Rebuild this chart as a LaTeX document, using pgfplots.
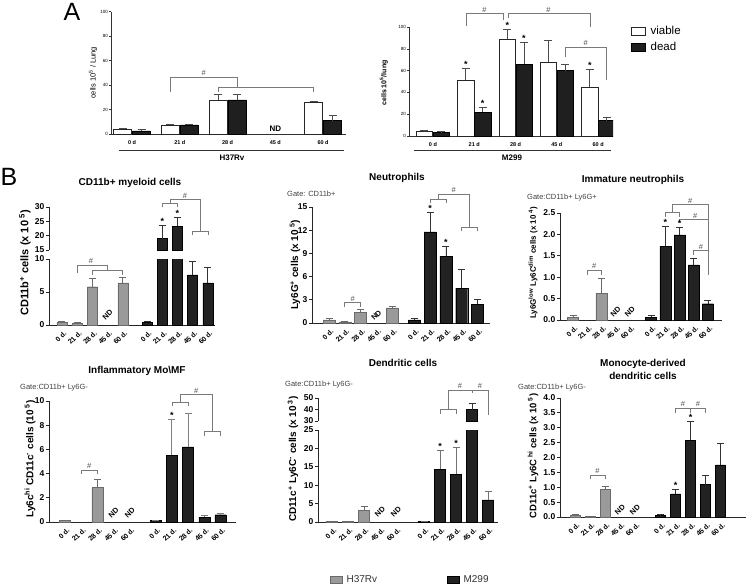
\documentclass[border=0pt]{standalone}
\usepackage{pgfplots}
\pgfplotsset{compat=1.18}
\usepackage{fontspec}
\setmainfont{Liberation Sans}
\definecolor{h37fill}{HTML}{9A9A9A}
\definecolor{h37draw}{HTML}{6A6A6A}
\definecolor{mfill}{HTML}{222222}
\definecolor{brkc}{HTML}{7A7A7A}
\newcommand{\fs}[1]{\fontsize{#1}{#1}\selectfont}
\tikzset{
 brk/.style={draw=brkc, line width=0.7pt},
 hs/.style={font=\fs{7.5}, text=black!70, anchor=south, inner sep=1pt},
 star/.style={font=\bfseries\fs{9}, anchor=south, inner sep=0.5pt},
 ND/.style={font=\bfseries\fs{7.5}, rotate=45, inner sep=0pt},
 ylab/.style={font=\bfseries\fs{#1}, rotate=90},
 ylab/.default=10,
 ttl/.style={font=\bfseries\fs{10}},
 gate/.style={font=\fs{7.5}, text=black!75, anchor=west, inner sep=0pt},
}
\pgfplotsset{
 Bax/.style={scale only axis, axis x line*=bottom, axis y line*=left,
   axis line style={line width=0.9pt, black!85},
   tick align=outside, major tick length=3pt,
   ytick style={line width=0.9pt, black!85},
   xtick style={draw=none},
   yticklabel style={font=\bfseries\fs{8.5}, inner sep=1.5pt},
   xticklabel style={rotate=45, anchor=north east, inner sep=0.3pt, yshift=-2pt, font=\bfseries\fs{7}},
   clip mode=individual, enlargelimits=false},
 Btop/.style={Bax, axis x line=none, xtick=\empty},
 dlab/.style={xticklabels={0 d.,21 d.,28 d.,45 d.,60 d.,0 d.,21 d.,28 d.,45 d.,60 d.}},
 h37/.style={ybar, fill=h37fill, draw=h37draw, line width=0.4pt,
    error bars/.cd, y dir=plus, y explicit,
    error bar style={h37draw, line width=0.8pt},
    error mark options={h37draw, line width=0.8pt, mark size=3.5pt, rotate=90}},
 m299/.style={ybar, fill=mfill, draw=black, line width=0.4pt,
    error bars/.cd, y dir=plus, y explicit,
    error bar style={#1, line width=0.8pt},
    error mark options={#1, line width=0.8pt, mark size=3.5pt, rotate=90}},
 m299/.default={black!80},
 Aax/.style={scale only axis, axis x line*=bottom, axis y line*=left,
   axis line style={line width=0.6pt, black!80},
   tick align=outside, major tick length=2pt,
   ytick style={line width=0.5pt, black!80}, xtick style={draw=none},
   yticklabel style={font=\fs{4.5}, inner sep=1pt},
   xticklabel style={font=\bfseries\fs{5.5}, inner sep=1pt, yshift=-3.5pt},
   clip mode=individual, enlargelimits=false,
   ymin=0, ymax=100, ytick={0,20,40,60,80,100}, yticklabels={0,20,40,60,80,100},
   xtick={0,1,2,3,4}, xticklabels={0 d,21 d,28 d,45 d,60 d}},
 Aviab/.style={fill=white, draw=black!85, line width=0.5pt,
    error bars/.cd, y dir=plus, y explicit,
    error bar style={black!70, line width=0.6pt},
    error mark options={black!70, line width=0.6pt, mark size=4pt, rotate=90}},
 Adead/.style={fill=black!88, draw=black, line width=0.5pt,
    error bars/.cd, y dir=plus, y explicit,
    error bar style={black!70, line width=0.6pt},
    error mark options={black!70, line width=0.6pt, mark size=4pt, rotate=90}},
}
\begin{document}
\begin{tikzpicture}
\useasboundingbox (0pt,0pt) rectangle (748pt,-584pt);

% ---------- Panel A left: H37Rv ----------
\begin{axis}[Aax, at={(111pt,-134pt)}, anchor=south west, width=235pt, height=122.3pt,
  xmin=-0.44, xmax=4.48, ybar=1pt, bar width=18pt]
\addplot[Aviab] coordinates {(0,4) +- (0,0.8) (1,7.5) +- (0,0.5) (2,28) +- (0,4.5) (4,26) +- (0,1)};
\addplot[Adead] coordinates {(0,2.5) +- (0,1.5) (1,7.5) +- (0,0.5) (2,28) +- (0,4.5) (4,11) +- (0,4.5)};
\node[font=\bfseries\fs{8}, anchor=south, inner sep=0pt] at (3,1.5) {ND};
\draw[brk] (0.8,34.3) |- (2.2,46.6) -- (2.2,38.4);
\draw[brk] (1.8,34.3) |- (3.8,38.4) -- (3.8,34.3);
\node[hs] at (1.5,46.6) {\#};
\end{axis}

% ---------- Panel A right: M299 ----------
\begin{axis}[Aax, at={(409pt,-136pt)}, anchor=south west, width=204pt, height=109pt,
  xmin=-0.58, xmax=4.36, ybar=0.5pt, bar width=16.5pt,
  legend style={at={(1.088,1.03)}, anchor=north west, draw=none, fill=none,
     font=\fs{11.5}, inner sep=0pt, row sep=2.5pt,
     nodes={inner xsep=5pt}},
  legend cell align=left,
  legend image code/.code={\draw[#1] (0pt,-4pt) rectangle (14pt,4pt);}]
\addplot[Aviab] coordinates {(0,4) +- (0,1) (1,51) +- (0,11) (2,89) +- (0,9) (3,68) +- (0,20) (4,45) +- (0,16)};
\addplot[Adead] coordinates {(0,3) +- (0,1) (1,22) +- (0,4.5) (2,66) +- (0,20) (3,60) +- (0,6) (4,14) +- (0,3.5)};
\legend{viable,dead}
\node[star] at (0.8,62) {*};
\node[star] at (1.2,26.5) {*};
\node[star] at (1.8,98) {*};
\node[star] at (2.2,86) {*};
\node[star] at (3.8,61) {*};
\draw[brk] (0.8,100.9) |- (1.7,112.6) -- (1.7,106.4);
\draw[brk] (1.82,108) |- (3.8,112.6) -- (3.8,100.3);
\node[hs] at (1.25,112.6) {\#};
\node[hs] at (2.8,112.6) {\#};
\draw[brk] (3.2,72.5) |- (4.2,81.7) -- (4.2,51.4);
\node[hs] at (3.7,81.7) {\#};
\end{axis}

% ---------- B1 CD11b+ myeloid (broken) ----------
\begin{axis}[Bax, at={(49pt,-325pt)}, anchor=south west, width=166pt, height=66pt,
  xmin=-0.855, xmax=10.07, ymin=0, ymax=10, ytick={0,5,10}, yticklabels={0,5,10},
  xtick={0,1,2,3,4,5.6,6.6,7.6,8.6,9.6}, dlab, bar width=10pt]
\addplot[h37] coordinates {(0,0.4) +- (0,0.2) (1,0.2) +- (0,0.2) (2,5.8) +- (0,1.3) (4,6.4) +- (0,0.8)};
\addplot[m299] coordinates {(5.6,0.4) +- (0,0.2) (6.6,19) +- (0,4.5) (7.6,23.2) +- (0,3.3) (8.6,7.6) +- (0,2.1) (9.6,6.4) +- (0,2.4)};
\node[ND] at (3,1.5) {ND};
\draw[brk] (1,7.9) |- (3,9.1) -- (3,8.3);
\draw[brk] (2,7.6) |- (4,8.3) -- (4,7.6);
\node[hs] at (1.9,9.1) {\#};
\end{axis}
\begin{axis}[Btop, at={(49pt,-250pt)}, anchor=south west, width=166pt, height=43pt,
  xmin=-0.855, xmax=10.07, ymin=15, ymax=30, ytick={15,20,25,30}, yticklabels={15,20,25,30}, bar width=10pt]
\addplot[m299] coordinates {(6.6,19) +- (0,4.5) (7.6,23.2) +- (0,3.3)};
\node[star] at (6.6,23.5) {*};
\node[star] at (7.6,26.5) {*};
\draw[brk] (6.6,30) |- (7.6,31.4) -- (7.6,30);
\draw[brk] (7.1,31.4) -- (7.1,32.7) -- (9.1,32.7) -- (9.1,21.6);
\draw[brk] (8.6,20.2) |- (9.6,21.6) -- (9.6,20.2);
\node[hs] at (8.1,32.7) {\#};
\end{axis}

% ---------- B2 Neutrophils ----------
\begin{axis}[Bax, at={(312pt,-323pt)}, anchor=south west, width=178pt, height=116pt,
  xmin=-1.076, xmax=10.19, ymin=0, ymax=15, ytick={0,3,6,9,12,15}, yticklabels={0,3,6,9,12,15},
  xtick={0,1,2,3,4,5.4,6.4,7.4,8.4,9.4}, dlab, bar width=12pt]
\addplot[h37] coordinates {(0,0.4) +- (0,0.15) (1,0.15) +- (0,0.05) (2,1.4) +- (0,0.3) (4,1.95) +- (0,0.2)};
\addplot[m299] coordinates {(5.4,0.4) +- (0,0.15) (6.4,11.8) +- (0,2.5) (7.4,8.6) +- (0,1.3) (8.4,4.5) +- (0,2.4) (9.4,2.4) +- (0,0.7)};
\node[ND] at (3,1.0) {ND};
\draw[brk] (1,2.1) |- (2,2.63) -- (2,2.1);
\node[hs] at (1.5,2.63) {\#};
\draw[brk] (6.4,15.5) |- (7.4,16.0) -- (7.4,15.5);
\draw[brk] (6.9,16.0) -- (6.9,16.7) -- (8.9,16.7) -- (8.9,12.4);
\draw[brk] (8.4,11.9) |- (9.4,12.4) -- (9.4,11.9);
\node[hs] at (7.9,16.7) {\#};
\node[star] at (6.4,14.3) {*};
\node[star] at (7.4,9.9) {*};
\end{axis}

% ---------- B3 Immature neutrophils ----------
\begin{axis}[Bax, at={(560pt,-320pt)}, anchor=south west, width=162pt, height=107pt,
  xmin=-0.915, xmax=10.49, ymin=0, ymax=2.5, ytick={0,0.5,1,1.5,2,2.5},
  yticklabels={0.0,0.5,1.0,1.5,2.0,2.5},
  xtick={0,1,2,3,4,5.5,6.5,7.5,8.5,9.5}, dlab, bar width=11pt]
\addplot[h37] coordinates {(0,0.07) +- (0,0.04) (2,0.63) +- (0,0.35)};
\addplot[m299] coordinates {(5.5,0.07) +- (0,0.04) (6.5,1.72) +- (0,0.47) (7.5,1.99) +- (0,0.17) (8.5,1.29) +- (0,0.16) (9.5,0.38) +- (0,0.07)};
\node[ND] at (3,0.19) {ND};
\node[ND] at (4,0.19) {ND};
\draw[brk] (1,1.05) |- (2,1.17) -- (2,1.05);
\node[hs] at (1.5,1.17) {\#};
\draw[brk] (6.5,2.41) |- (7.5,2.52) -- (7.5,2.41);
\draw[brk] (7.0,2.52) -- (7.0,2.70) -- (9.5,2.70) -- (9.5,1.05);
\draw[brk] (7.5,2.27) |- (9.5,2.35);
\draw[brk] (8.5,1.52) |- (9.5,1.62);
\node[hs] at (8.25,2.70) {\#};
\node[hs] at (8.6,2.35) {\#};
\node[hs] at (9.0,1.62) {\#};
\node[star] at (6.5,2.19) {*};
\node[star] at (7.5,2.16) {*};
\end{axis}

% ---------- B4 Inflammatory Mo/MF ----------
\begin{axis}[Bax, at={(49pt,-522pt)}, anchor=south west, width=187pt, height=121pt,
  xmin=-0.99, xmax=10.56, ymin=0, ymax=10, ytick={0,2,4,6,8,10}, yticklabels={0,2,4,6,8,10},
  xtick={0,1,2,3,4,5.6,6.6,7.6,8.6,9.6}, dlab, bar width=11pt]
\addplot[h37] coordinates {(0,0.12) +- (0,0.05) (2,2.85) +- (0,0.65)};
\addplot[m299=black!50] coordinates {(5.6,0.12) +- (0,0.05) (6.6,5.5) +- (0,3.0) (7.6,6.2) +- (0,2.8) (8.6,0.4) +- (0,0.12) (9.6,0.6) +- (0,0.07)};
\node[ND] at (3,0.75) {ND};
\node[ND] at (4,0.75) {ND};
\draw[brk] (1,3.97) |- (2,4.3) -- (2,3.97);
\node[hs] at (1.5,4.3) {\#};
\draw[brk] (6.6,9.59) |- (7.6,9.89) -- (7.6,9.59);
\draw[brk] (7.1,9.89) -- (7.1,10.55) -- (9.1,10.55) -- (9.1,7.52);
\draw[brk] (8.6,7.1) |- (9.6,7.52) -- (9.6,7.1);
\node[hs] at (8.1,10.55) {\#};
\node[star] at (6.6,8.5) {*};
\end{axis}

% ---------- B5 Dendritic cells (broken) ----------
\begin{axis}[Bax, at={(318pt,-522pt)}, anchor=south west, width=180pt, height=92pt,
  xmin=-0.875, xmax=10.375, ymin=0, ymax=25, ytick={0,5,10,15,20,25}, yticklabels={0,5,10,15,20,25},
  xtick={0,1,2,3,4,5.75,6.75,7.75,8.75,9.75}, dlab, bar width=11pt,
  legend style={at={(0.0667,-0.625)}, anchor=west, draw=none, fill=none,
     font=\fs{10}, text=black!80, inner sep=0pt, legend columns=2,
     nodes={inner xsep=4pt},
     /tikz/every even column/.append style={column sep=66pt}},
  legend image code/.code={\draw[#1] (0pt,-3.5pt) rectangle (12pt,3.5pt);}]
\addplot[h37] coordinates {(0,0.2) +- (0,0.1) (1,0.1) +- (0,0.05) (2,3.1) +- (0,1.2)};
\addplot[m299=black!55] coordinates {(5.75,0.2) +- (0,0.1) (6.75,14.4) +- (0,5.1) (7.75,13.0) +- (0,7.3) (8.75,40) +- (0,5.5) (9.75,6.0) +- (0,2.3)};
\legend{H37Rv,M299}
\node[ND] at (3,2.7) {ND};
\node[ND] at (4,2.7) {ND};
\node[star] at (6.75,19.5) {*};
\node[star] at (7.75,20.3) {*};
\end{axis}
\begin{axis}[Btop, at={(318pt,-421pt)}, anchor=south west, width=180pt, height=23pt,
  xmin=-0.875, xmax=10.375, ymin=30, ymax=50, ytick={30,40,50}, yticklabels={30,40,50}, bar width=11pt]
\addplot[m299] coordinates {(8.75,40) +- (0,5.5)};
\draw[brk] (6.75,36.1) |- (7.75,40.4) -- (7.75,36.1);
\draw[brk] (7.25,40.4) -- (7.25,57) -- (8.75,57) -- (8.75,54);
\draw[brk] (8.75,57) -- (9.75,57) -- (9.75,35.2);
\node[hs] at (8.0,57) {\#};
\node[hs] at (9.25,57) {\#};
\end{axis}

% ---------- B6 Monocyte-derived DC ----------
\begin{axis}[Bax, at={(560pt,-517pt)}, anchor=south west, width=186pt, height=119pt,
  xmin=-1, xmax=11.4, ymin=0, ymax=4, ytick={0,0.5,1,1.5,2,2.5,3,3.5,4},
  yticklabels={0.0,0.5,1.0,1.5,2.0,2.5,3.0,3.5,4.0},
  xtick={0,1,2,3,4,5.7,6.7,7.7,8.7,9.7}, dlab, bar width=10pt]
\addplot[h37] coordinates {(0,0.05) +- (0,0.04) (1,0.02) +- (0,0.01) (2,0.92) +- (0,0.1)};
\addplot[m299] coordinates {(5.7,0.05) +- (0,0.04) (6.7,0.78) +- (0,0.14) (7.7,2.58) +- (0,0.63) (8.7,1.09) +- (0,0.3) (9.7,1.75) +- (0,0.74)};
\node[ND] at (3,0.24) {ND};
\node[ND] at (4,0.24) {ND};
\draw[brk] (1,1.28) |- (2,1.41) -- (2,1.28);
\node[hs] at (1.5,1.41) {\#};
\draw[brk] (6.7,3.5) |- (7.7,3.66) -- (7.7,3.5);
\draw[brk] (7.7,3.5) |- (8.7,3.66) -- (8.7,3.5);
\node[hs] at (7.2,3.66) {\#};
\node[hs] at (8.2,3.66) {\#};
\node[star] at (6.7,0.92) {*};
\node[star] at (7.7,3.21) {*};
\end{axis}

% ---------- annotations (pixel coordinates) ----------
\begin{scope}[x=1pt,y=-1pt]
\node[font=\fs{25}] at (72,12) {A};
\node[font=\fs{25}] at (9,177) {B};
% panel A
\node[font=\fs{7.5}, rotate=90] at (93,73) {cells 10\textsuperscript{5} / Lung};
\draw[line width=0.6pt, black!80] (119,150) -- (344,150);
\node[font=\bfseries\fs{8}] at (232,158) {H37Rv};
\node[font=\bfseries\fs{7}, rotate=90] at (384,83) {cells 10\textsuperscript{5}/lung};
\draw[line width=0.6pt, black!80] (414,150) -- (611,150);
\node[font=\bfseries\fs{8}] at (512,158) {M299};
% titles
\node[ttl] at (130,183) {CD11b+ myeloid cells};
\node[ttl] at (397,178) {Neutrophils};
\node[ttl] at (633,180) {Immature neutrophils};
\node[ttl] at (137,371) {Inflammatory Mo\textbackslash MF};
\node[ttl] at (403,363) {Dendritic cells};
\node[font=\bfseries\fontsize{10}{13}\selectfont, align=center] at (643,369.5) {Monocyte-derived\\dendritic cells};
% gates
\node[gate] at (287,194) {Gate: CD11b+};
\node[gate] at (527,198) {Gate:CD11b+ Ly6G+};
\node[gate] at (20,388) {Gate:CD11b+ Ly6G-};
\node[gate] at (285,385) {Gate:CD11b+ Ly6G-};
\node[gate] at (518,388) {Gate:CD11b+ Ly6G-};
% y labels
\node[ylab=11] at (25,263) {CD11b\textsuperscript{+} cells (x 10\textsuperscript{ 5})};
\node[ylab=10] at (295,265) {Ly6G\textsuperscript{+} cells (x 10\textsuperscript{ 5})};
\node[ylab=8] at (533,263) {Ly6G\textsuperscript{low} Ly6C\textsuperscript{dim} cells (x 10\textsuperscript{ 4})};
\node[ylab=10] at (30,459) {Ly6c\textsuperscript{hi} CD11c\textsuperscript{-} cells (10\textsuperscript{ 5})};
\node[ylab=10] at (293,459) {CD11c\textsuperscript{+} Ly6C\textsuperscript{-} cells (x 10\textsuperscript{ 3})};
\node[ylab=9.5] at (533,456) {CD11c\textsuperscript{+} Ly6C\textsuperscript{ hi} cells (x 10\textsuperscript{ 5})};
\end{scope}
\end{tikzpicture}
\end{document}
